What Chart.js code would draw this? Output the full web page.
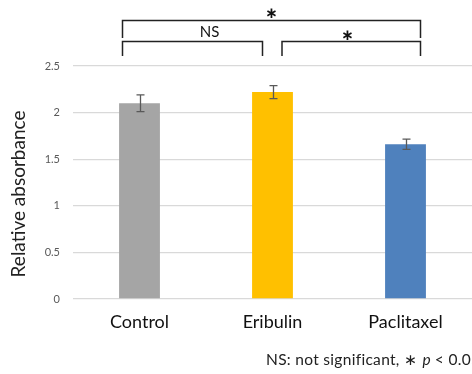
<!DOCTYPE html>
<html><head><meta charset="utf-8">
<script src="https://cdn.jsdelivr.net/npm/chart.js@4"></script>
<style>html,body{margin:0;padding:0;background:#fff}#wrap{width:472px;height:374px}</style>
</head><body><div id="wrap"><canvas id="c" width="472" height="374"></canvas></div>
<script>
const categories = ["Control", "Eribulin", "Paclitaxel"];
const values = [2.10, 2.22, 1.66];
const errors = [0.09, 0.07, 0.055];
const barColors = ["#a5a5a5", "#ffc000", "#4f81bd"];
const yTicks = [0, 0.5, 1, 1.5, 2, 2.5];
const yTitle = "Relative absorbance";

const FONT = "Lato, 'Open Sans', sans-serif";

const extras = {
  id: 'extras',
  afterDatasetsDraw(chart) {
    const ctx = chart.ctx, x = chart.scales.x, y = chart.scales.y;
    ctx.save();
    // error bars
    ctx.strokeStyle = '#595959'; ctx.lineWidth = 1.3;
    values.forEach((v, i) => {
      const cx = Math.round(x.getPixelForValue(i)) + 0.5;
      const t = y.getPixelForValue(v + errors[i]), b = y.getPixelForValue(v - errors[i]);
      ctx.beginPath();
      ctx.moveTo(cx, t); ctx.lineTo(cx, b);
      ctx.moveTo(cx - 4, t); ctx.lineTo(cx + 4, t);
      ctx.moveTo(cx - 4, b); ctx.lineTo(cx + 4, b);
      ctx.stroke();
    });
    // significance brackets
    const c0 = x.getPixelForValue(0), c1 = x.getPixelForValue(1), c2 = x.getPixelForValue(2);
    const L = c0 - 17, R = c2 + 15;
    ctx.strokeStyle = '#222'; ctx.lineWidth = 1.5;
    const br = (a, b, top, bot) => {
      ctx.beginPath(); ctx.moveTo(a, bot); ctx.lineTo(a, top); ctx.lineTo(b, top); ctx.lineTo(b, bot); ctx.stroke();
    };
    br(L, R, 20.5, 38);
    br(L, c1 - 10, 41.5, 56);
    br(c1 + 9.5, R, 41.5, 56);
    ctx.fillStyle = '#111';
    ctx.textAlign = 'center'; ctx.textBaseline = 'middle';
    ctx.font = "bold 15px 'DejaVu Sans', sans-serif";
    ctx.fillText('\u2217', (L + R) / 2, 14);
    ctx.fillText('\u2217', c1 + 75, 36);
    ctx.font = "15px " + FONT;
    ctx.fillText('NS', c1 - 63, 32);
    // y title
    ctx.save();
    ctx.translate(19, 194); ctx.rotate(-Math.PI / 2);
    ctx.font = "19px " + FONT; ctx.fillStyle = '#222';
    ctx.fillText(yTitle, 0, 0);
    ctx.restore();
    // footnote
    ctx.textAlign = 'left'; ctx.textBaseline = 'alphabetic';
    ctx.letterSpacing = '0.3px';
    const fx = 266, fy = 365, fs = 15.5;
    ctx.font = fs + "px " + FONT; ctx.fillStyle = '#222';
    const part1 = "NS: not significant, ";
    ctx.fillText(part1, fx, fy);
    let w = ctx.measureText(part1).width;
    ctx.font = fs + "px 'DejaVu Sans', sans-serif";
    ctx.fillText('\u2217', fx + w, fy);
    w += ctx.measureText('\u2217 ').width;
    ctx.font = "italic " + fs + "px " + FONT;
    ctx.fillText('p', fx + w, fy);
    w += ctx.measureText('p ').width;
    ctx.font = fs + "px " + FONT;
    ctx.fillText('< 0.05', fx + w, fy);
    ctx.restore();
  }
};

new Chart(document.getElementById('c'), {
  type: 'bar',
  data: {
    labels: categories,
    datasets: [{ data: values, backgroundColor: barColors, borderWidth: 0, barPercentage: 0.307, categoryPercentage: 1 }]
  },
  options: {
    responsive: false, animation: false,
    layout: { padding: { top: 66, left: 0, right: 0, bottom: 0 } },
    plugins: { legend: { display: false }, tooltip: { enabled: false } },
    scales: {
      x: {
        grid: { display: false, drawTicks: false },
        border: { display: false },
        ticks: { font: { family: FONT, size: 18 }, color: '#111', padding: 12 },
        afterFit(s) { s.height = 75; }
      },
      y: {
        min: 0, max: 2.5,
        afterBuildTicks(s) { s.ticks = yTicks.map(v => ({ value: v })); },
        grid: { color: '#d9d9d9', lineWidth: 1.3, drawTicks: false },
        border: { display: false },
        ticks: { font: { family: FONT, size: 11 }, color: '#595959', padding: 13, callback: v => String(v) },
        afterFit(s) { s.width = 73; }
      }
    }
  },
  plugins: [extras]
});
</script></body></html>
